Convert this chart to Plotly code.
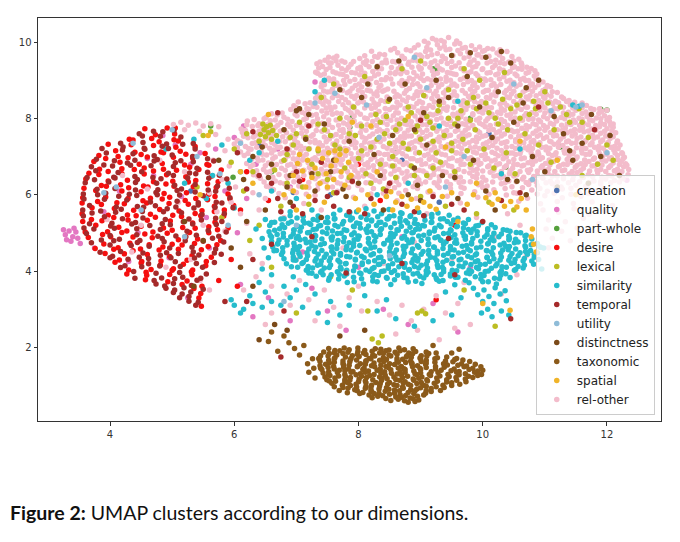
import plotly.graph_objects as go

# UMAP coordinates, one list per relation dimension
creation = [(6.95,6.06),(7.55,6.0),(8.7,6.9),(10.1,7.6),(6.4,7.3),(9.3,5.8),(5.3,6.1)]

quality = [(3.28,4.95),(3.34,5.05),(3.4,4.9),(3.3,4.82),(3.45,5.02),(3.37,4.78),(3.25,5.08),(3.48,4.86),(3.52,4.72),(3.42,5.12),
    (3.9,5.55),(4.15,6.1),(4.45,5.0),(4.7,6.5),(4.95,4.35),(5.15,5.95),(4.3,4.25),(3.75,4.6),(4.6,6.95),(5.3,6.8),(5.05,7.3),(4.85,7.55),(5.6,4.6),(5.25,3.3),
    (5.45,7.1),(5.7,7.2),(5.85,6.1),(5.55,5.4),(6.05,5.0),(6.2,5.9),(6.35,6.8),(6.7,7.2),(6.9,6.2),(6.15,7.8),(6.0,7.5),(7.3,8.95),(9.4,8.25),(12.25,6.45),(12.32,6.38),
    (6.1,3.65),(6.3,2.8),(6.55,3.3),(6.9,2.7),(7.25,3.55),(7.5,2.95),(7.8,2.45),(8.0,4.1),(8.4,3.0),(8.8,2.6),(9.2,3.15),(9.6,2.4),(7.1,4.5),(8.7,4.9),(9.8,4.1)]

part_whole = [(5.62,7.8),(5.98,6.46),(7.9,8.03),(9.2,9.3),(9.26,9.28),(7.86,7.77),(12.0,8.22),(10.37,6.72),(11.25,7.25),(8.6,7.1),(9.8,8.0),(6.6,6.6),(11.9,8.24)]

desire = [(4.56,7.73),(4.92,7.75),(4.73,7.57),(5.04,7.59),(4.31,7.45),(4.67,7.47),(5.03,7.44),(4.37,7.43),(4.79,7.39),(5.10,7.41),
    (3.97,7.32),(4.34,7.31),(4.70,7.29),(5.06,7.24),(5.37,7.26),(4.09,7.15),(4.40,7.11),(4.82,7.12),(5.13,7.14),
    (3.82,7.03),(4.13,7.00),(4.50,7.05),(4.86,7.10),(5.22,7.06),(5.53,7.08),(3.93,6.95),(4.29,6.97),(4.60,6.99),(5.02,6.98),(5.33,6.96),
    (3.74,6.87),(4.16,6.85),(4.47,6.80),(4.84,6.82),(5.20,6.78),(5.56,6.79),(3.83,6.67),(4.19,6.68),(4.55,6.70),(4.86,6.67),(5.28,6.72),(5.59,6.77),
    (3.66,6.56),(3.97,6.61),(4.39,6.66),(4.70,6.62),(5.07,6.64),(5.43,6.66),(5.79,6.65),(3.82,6.53),(4.19,6.55),(4.55,6.54),(4.91,6.52),(5.22,6.47),(5.64,6.49),
    (3.61,6.41),(3.97,6.36),(4.28,6.38),(4.70,6.34),(5.01,6.35),(5.38,6.37),(5.74,6.34),(3.86,6.24),(4.17,6.26),(4.54,6.23),(4.90,6.28),(5.26,6.33),(5.57,6.29),
    (3.58,6.17),(3.94,6.22),(4.30,6.18),(4.61,6.20),(5.03,6.22),(5.34,6.21),(5.71,6.19),(3.77,6.11),(4.19,6.10),(4.50,6.08),(4.87,6.03),(5.23,6.05),(5.59,6.01),(5.90,6.02),
    (3.56,5.92),(3.93,5.94),(4.29,5.90),(4.65,5.91),(4.96,5.93),(5.38,5.90),(5.69,5.95),(3.80,5.82),(4.11,5.79),(4.53,5.84),(4.84,5.89),(5.21,5.85),(5.57,5.87),(5.93,5.89),
    (3.55,5.78),(3.86,5.74),(4.23,5.76),(4.59,5.78),(4.95,5.77),(5.26,5.75),(5.68,5.70),(5.99,5.72),(3.71,5.66),(4.07,5.64),(4.38,5.59),(4.80,5.61),(5.11,5.57),(5.48,5.58),(5.84,5.60),
    (3.55,5.50),(3.97,5.46),(4.28,5.47),(4.65,5.49),(5.01,5.46),(5.37,5.51),(5.68,5.56),(3.70,5.35),(4.06,5.40),(4.42,5.45),(4.73,5.41),(5.15,5.43),(5.46,5.45),(5.83,5.44),
    (3.56,5.30),(3.87,5.32),(4.29,5.34),(4.60,5.33),(4.97,5.31),(5.33,5.26),(5.69,5.28),(3.77,5.20),(4.14,5.15),(4.50,5.17),(4.86,5.13),(5.17,5.14),(5.59,5.16),(5.90,5.13),
    (3.60,5.02),(3.96,5.03),(4.27,5.05),(4.69,5.02),(5.00,5.07),(5.37,5.12),(5.73,5.08),(3.88,4.96),(4.19,5.01),(4.56,4.97),(4.92,4.99),(5.28,5.01),(5.59,5.00),
    (3.65,4.88),(4.01,4.90),(4.37,4.89),(4.68,4.87),(5.10,4.82),(5.41,4.84),(5.78,4.80),(3.90,4.71),(4.32,4.73),(4.63,4.69),(5.00,4.70),(5.36,4.72),(5.72,4.69),
    (3.76,4.59),(4.13,4.61),(4.49,4.58),(4.85,4.63),(5.16,4.68),(5.58,4.64),(4.06,4.57),(4.37,4.53),(4.79,4.55),(5.10,4.57),(5.47,4.56),
    (3.92,4.46),(4.23,4.45),(4.60,4.43),(4.96,4.38),(5.32,4.40),(5.63,4.36),(4.15,4.29),(4.51,4.25),(4.82,4.26),(5.24,4.28),(5.55,4.25),
    (4.08,4.23),(4.50,4.21),(4.81,4.16),(5.18,4.18),(5.54,4.14),(4.30,4.03),(4.66,4.04),(5.02,4.06),(5.33,4.03),
    (4.27,3.92),(4.58,3.97),(5.00,4.02),(5.31,3.98),(4.59,3.89),(4.96,3.91),(5.32,3.90),(4.57,3.77),(4.93,3.72),(5.24,3.74),
    (5.16,3.65),(5.48,3.60),(5.35,3.54),(5.46,3.41),(5.43,3.29),(5.47,3.08),
    (5.95,4.3),(6.05,3.6),(5.75,3.75),(6.1,5.6),(6.2,6.6),(6.55,5.85),(7.1,6.4),(8.0,6.8),(8.35,5.85),(9.55,5.2),(9.25,3.25),(5.05,7.75)]

lexical = [(6.46,7.85),(6.52,7.78),(6.58,7.82),(6.48,7.7),(6.55,7.62),(6.62,7.68),(6.5,7.52),(6.6,7.45),(6.42,7.58),(6.68,7.55),(6.4,7.4),
    (6.0,7.2),(6.2,7.6),(5.95,6.85),(6.3,6.6),(6.8,6.9),(6.95,7.3),(7.05,7.9),(7.15,7.5),(7.25,6.8),(7.35,7.15),(7.45,7.7),(7.5,6.4),
    (7.62,7.3),(7.7,8.0),(7.78,6.7),(7.85,7.6),(7.92,8.3),(8.0,6.95),(8.05,7.8),(8.12,6.55),(8.2,7.25),(8.28,8.1),(8.35,6.8),(8.42,7.6),
    (8.48,8.45),(8.55,7.0),(8.6,6.45),(8.66,7.85),(8.72,7.35),(8.8,8.3),(8.85,6.75),(8.92,7.65),(8.98,7.1),(9.05,8.6),(9.1,6.5),(9.15,7.9),
    (9.2,7.4),(9.28,8.2),(9.32,6.85),(9.38,7.55),(9.45,8.75),(9.5,7.15),(9.55,6.6),(9.6,8.0),(9.68,7.45),(9.75,8.4),(9.8,6.8),(9.88,7.7),
    (9.95,9.0),(10.02,7.2),(10.1,8.15),(10.18,6.7),(10.25,7.85),(10.32,8.5),(10.38,7.1),(10.45,8.25),(10.52,6.55),(10.6,8.6),(10.68,7.6),
    (10.75,8.1),(10.82,8.45),(10.9,7.3),(11.0,8.7),(11.1,6.85),(11.25,8.3),(11.4,7.9),(11.55,8.25),(11.7,7.5),(11.85,6.8),(12.0,7.3),
    (12.1,6.9),(11.6,6.5),(7.4,8.55),(7.6,8.9),(8.1,9.1),(8.7,9.3),(9.0,9.5),(9.7,9.3),(10.35,9.2),(7.1,6.2),(7.6,6.05),(8.4,6.15),
    (9.0,5.95),(9.4,5.7),(10.1,5.8),(6.75,5.7),(6.4,5.2),(6.25,4.8),(8.22,2.22),(8.32,2.12),(8.38,2.3),(8.95,2.9),(9.02,2.95),(9.08,2.88),
    (7.0,2.9),(7.55,3.85),(9.7,3.5),(10.2,2.55),(5.5,7.55),(5.62,7.65),(5.4,6.2),(5.8,5.4),(6.6,4.1),(7.9,3.5),(8.15,2.95),(6.15,6.1),
    (6.85,6.3),(7.2,5.75),(9.9,5.5),(10.5,5.6),
    (8.35,7.9),(8.45,8.05),(8.6,7.7),(8.75,7.95),(8.85,8.15),(8.95,7.8),(9.1,8.05),(9.2,7.75),(9.3,8.35),(9.45,8.0),(9.55,7.85),(9.65,8.2),
    (9.8,7.95),(9.9,8.25),(8.5,7.35),(8.8,7.2),(9.0,7.45),(9.25,7.1),(9.5,7.35),(9.75,7.15),(8.3,7.45),(8.05,7.15),(7.95,7.55),(7.7,7.2),
    (7.55,7.55),(7.35,7.85),(7.2,7.2),(7.0,7.6),(6.85,7.05),(9.85,8.55),(10.05,8.4),(10.2,8.0),(10.4,7.7),(10.6,8.0),(10.55,8.35),(10.85,8.25),
    (11.05,8.4),(11.15,7.7),(11.35,8.1),(11.6,7.9),(8.55,6.75),(8.9,6.5),(9.2,6.7),(7.85,6.45),(8.2,6.3),(7.35,6.55),(6.65,6.65),(6.9,7.5)]

similarity = [(7.70,5.60),(7.86,5.54),(8.12,5.63),(8.25,5.57),(8.49,5.61),(8.68,5.53),
    (7.60,5.49),(7.85,5.46),(7.97,5.55),(8.15,5.47),(8.37,5.50),(8.50,5.43),(8.70,5.51),(8.84,5.45),(8.97,5.54),(9.18,5.48),(9.28,5.52),
    (6.75,5.36),(6.90,5.45),(7.01,5.39),(7.11,5.43),(7.27,5.35),(7.35,5.44),(7.50,5.40),(7.62,5.37),(7.81,5.46),(7.90,5.38),(8.04,5.41),(8.21,5.34),
    (8.31,5.42),(8.46,5.36),(8.57,5.45),(8.67,5.39),(8.83,5.43),(8.91,5.35),(9.06,5.44),(9.18,5.40),(9.37,5.37),(9.46,5.46),(9.60,5.38),
    (6.65,5.28),(6.80,5.37),(6.92,5.29),(7.11,5.32),(7.20,5.25),(7.34,5.33),(7.51,5.27),(7.61,5.36),(7.76,5.30),(7.87,5.34),(7.97,5.26),(8.13,5.35),(8.21,5.31),
    (8.36,5.28),(8.48,5.37),(8.67,5.29),(8.76,5.32),(8.90,5.25),(9.07,5.33),(9.17,5.27),(9.32,5.36),(9.43,5.30),(9.53,5.34),(9.69,5.26),(9.77,5.35),
    (6.60,5.27),(6.77,5.21),(6.87,5.25),(7.02,5.17),(7.13,5.26),(7.23,5.22),(7.39,5.19),(7.47,5.28),(7.62,5.20),(7.74,5.23),(7.93,5.16),(8.02,5.24),(8.16,5.18),(8.33,5.27),
    (8.43,5.21),(8.58,5.25),(8.69,5.17),(8.79,5.26),(8.95,5.22),(9.03,5.19),(9.18,5.28),(9.30,5.20),(9.49,5.23),(9.58,5.16),(9.72,5.24),(9.89,5.18),(9.99,5.27),(10.14,5.21),
    (6.57,5.19),(6.73,5.11),(6.81,5.14),(6.96,5.07),(7.08,5.15),(7.27,5.09),(7.36,5.18),(7.50,5.12),(7.67,5.16),(7.77,5.08),(7.92,5.17),(8.03,5.13),(8.13,5.10),(8.29,5.19),(8.37,5.11),
    (8.52,5.14),(8.64,5.07),(8.83,5.15),(8.92,5.09),(9.06,5.18),(9.23,5.12),(9.33,5.16),(9.48,5.08),(9.59,5.17),(9.69,5.13),(9.85,5.10),(9.93,5.19),(10.08,5.11),(10.20,5.14),(10.39,5.07),
    (6.56,5.03),(6.65,5.07),(6.79,4.99),(6.96,5.08),(7.06,5.04),(7.21,5.01),(7.32,5.10),(7.42,5.02),(7.58,5.05),(7.66,4.98),(7.81,5.06),(7.93,5.00),(8.12,5.09),(8.21,5.03),(8.35,5.07),(8.52,4.99),
    (8.62,5.08),(8.77,5.04),(8.88,5.01),(8.98,5.10),(9.14,5.02),(9.22,5.05),(9.37,4.98),(9.49,5.06),(9.68,5.00),(9.77,5.09),(9.91,5.03),(10.08,5.07),(10.18,4.99),(10.33,5.08),(10.44,5.04),(10.54,5.01),
    (6.58,4.93),(6.69,4.96),(6.79,4.89),(6.95,4.97),(7.03,4.91),(7.18,5.00),(7.30,4.94),(7.49,4.98),(7.58,4.90),(7.72,4.99),(7.89,4.95),(7.99,4.92),(8.14,5.01),(8.25,4.93),(8.35,4.96),(8.51,4.89),(8.59,4.97),
    (8.74,4.91),(8.86,5.00),(9.05,4.94),(9.14,4.98),(9.28,4.90),(9.45,4.99),(9.55,4.95),(9.70,4.92),(9.81,5.01),(9.91,4.93),(10.07,4.96),(10.15,4.89),(10.30,4.97),(10.42,4.91),(10.61,5.00),(10.70,4.94),
    (6.60,4.89),(6.72,4.81),(6.91,4.90),(7.00,4.86),(7.14,4.83),(7.31,4.92),(7.41,4.84),(7.56,4.87),(7.67,4.80),(7.77,4.88),(7.93,4.82),(8.01,4.91),(8.16,4.85),(8.28,4.89),(8.47,4.81),(8.56,4.90),(8.70,4.86),
    (8.87,4.83),(8.97,4.92),(9.12,4.84),(9.23,4.87),(9.33,4.80),(9.49,4.88),(9.57,4.82),(9.72,4.91),(9.84,4.85),(10.03,4.89),(10.12,4.81),(10.26,4.90),(10.43,4.86),(10.53,4.83),(10.68,4.92),(10.79,4.84),
    (6.60,4.78),(6.70,4.71),(6.85,4.79),(6.96,4.73),(7.06,4.82),(7.22,4.76),(7.30,4.80),(7.45,4.72),(7.57,4.81),(7.76,4.77),(7.85,4.74),(7.99,4.83),(8.16,4.75),(8.26,4.78),(8.41,4.71),(8.52,4.79),(8.62,4.73),
    (8.78,4.82),(8.86,4.76),(9.01,4.80),(9.13,4.72),(9.32,4.81),(9.41,4.77),(9.55,4.74),(9.72,4.83),(9.82,4.75),(9.97,4.78),(10.08,4.71),(10.18,4.79),(10.34,4.73),(10.42,4.82),(10.57,4.76),(10.69,4.80),(10.88,4.72),
    (6.62,4.63),(6.70,4.72),(6.85,4.68),(6.97,4.65),(7.16,4.74),(7.25,4.66),(7.39,4.69),(7.56,4.62),(7.66,4.70),(7.81,4.64),(7.92,4.73),(8.02,4.67),(8.18,4.71),(8.26,4.63),(8.41,4.72),(8.53,4.68),(8.72,4.65),
    (8.81,4.74),(8.95,4.66),(9.12,4.69),(9.22,4.62),(9.37,4.70),(9.48,4.64),(9.58,4.73),(9.74,4.67),(9.82,4.71),(9.97,4.63),(10.09,4.72),(10.28,4.68),(10.37,4.65),(10.51,4.74),(10.68,4.66),(10.78,4.69),(10.93,4.62),
    (6.64,4.53),(6.78,4.61),(6.95,4.55),(7.05,4.64),(7.20,4.58),(7.31,4.62),(7.41,4.54),(7.57,4.63),(7.65,4.59),(7.80,4.56),(7.92,4.65),(8.11,4.57),(8.20,4.60),(8.34,4.53),(8.51,4.61),(8.61,4.55),(8.76,4.64),
    (8.87,4.58),(8.97,4.62),(9.13,4.54),(9.21,4.63),(9.36,4.59),(9.48,4.56),(9.67,4.65),(9.76,4.57),(9.90,4.60),(10.07,4.53),(10.17,4.61),(10.32,4.55),(10.43,4.64),(10.53,4.58),(10.69,4.62),(10.77,4.54),(10.92,4.63),
    (6.68,4.54),(6.78,4.50),(6.94,4.47),(7.02,4.56),(7.17,4.48),(7.29,4.51),(7.48,4.44),(7.57,4.52),(7.71,4.46),(7.88,4.55),(7.98,4.49),(8.13,4.53),(8.24,4.45),(8.34,4.54),(8.50,4.50),(8.58,4.47),(8.73,4.56),
    (8.85,4.48),(9.04,4.51),(9.13,4.44),(9.27,4.52),(9.44,4.46),(9.54,4.55),(9.69,4.49),(9.80,4.53),(9.90,4.45),(10.06,4.54),(10.14,4.50),(10.29,4.47),(10.41,4.56),(10.60,4.48),(10.69,4.51),(10.83,4.44),
    (6.76,4.43),(6.95,4.37),(7.04,4.46),(7.18,4.40),(7.35,4.44),(7.45,4.36),(7.60,4.45),(7.71,4.41),(7.81,4.38),(7.97,4.47),(8.05,4.39),(8.20,4.42),(8.32,4.35),(8.51,4.43),(8.60,4.37),(8.74,4.46),
    (8.91,4.40),(9.01,4.44),(9.16,4.36),(9.27,4.45),(9.37,4.41),(9.53,4.38),(9.61,4.47),(9.76,4.39),(9.88,4.42),(10.07,4.35),(10.16,4.43),(10.30,4.37),(10.47,4.46),(10.57,4.40),(10.72,4.44),(10.83,4.36),
    (6.80,4.32),(6.95,4.29),(7.06,4.38),(7.16,4.30),(7.32,4.33),(7.40,4.26),(7.55,4.34),(7.67,4.28),(7.86,4.37),(7.95,4.31),(8.09,4.35),(8.26,4.27),(8.36,4.36),(8.51,4.32),(8.62,4.29),(8.72,4.38),
    (8.88,4.30),(8.96,4.33),(9.11,4.26),(9.23,4.34),(9.42,4.28),(9.51,4.37),(9.65,4.31),(9.82,4.35),(9.92,4.27),(10.07,4.36),(10.18,4.32),(10.28,4.29),(10.44,4.38),(10.52,4.30),(10.67,4.33),(10.79,4.26),
    (6.84,4.19),(6.99,4.28),(7.11,4.22),(7.30,4.26),(7.39,4.18),(7.53,4.27),(7.70,4.23),(7.80,4.20),(7.95,4.29),(8.06,4.21),(8.16,4.24),(8.32,4.17),(8.40,4.25),(8.55,4.19),(8.67,4.28),(8.86,4.22),
    (8.95,4.26),(9.09,4.18),(9.26,4.27),(9.36,4.23),(9.51,4.20),(9.62,4.29),(9.72,4.21),(9.88,4.24),(9.96,4.17),(10.11,4.25),(10.23,4.19),(10.42,4.28),(10.51,4.22),(10.65,4.26),(10.82,4.18),
    (6.92,4.11),(7.09,4.20),(7.19,4.12),(7.34,4.15),(7.45,4.08),(7.55,4.16),(7.71,4.10),(7.79,4.19),(7.94,4.13),(8.06,4.17),(8.25,4.09),(8.34,4.18),(8.48,4.14),(8.65,4.11),(8.75,4.20),
    (8.90,4.12),(9.01,4.15),(9.11,4.08),(9.27,4.16),(9.35,4.10),(9.50,4.19),(9.62,4.13),(9.81,4.17),(9.90,4.09),(10.04,4.18),(10.21,4.14),(10.31,4.11),(10.46,4.20),(10.57,4.12),(10.67,4.15),
    (7.02,4.10),(7.18,4.04),(7.26,4.08),(7.41,4.00),(7.53,4.09),(7.72,4.05),(7.81,4.02),(7.95,4.11),(8.12,4.03),(8.22,4.06),(8.37,3.99),(8.48,4.07),(8.58,4.01),(8.74,4.10),(8.82,4.04),
    (8.97,4.08),(9.09,4.00),(9.28,4.09),(9.37,4.05),(9.51,4.02),(9.68,4.11),(9.78,4.03),(9.93,4.06),(10.04,3.99),(10.14,4.07),(10.30,4.01),(10.38,4.10),(10.53,4.04),(10.65,4.08),
    (7.16,4.02),(7.25,3.94),(7.39,3.97),(7.56,3.90),(7.66,3.98),(7.81,3.92),(7.92,4.01),(8.02,3.95),(8.18,3.99),(8.26,3.91),(8.41,4.00),(8.53,3.96),(8.72,3.93),(8.81,4.02),
    (8.95,3.94),(9.12,3.97),(9.22,3.90),(9.37,3.98),(9.48,3.92),(9.58,4.01),(9.74,3.95),(9.82,3.99),(9.97,3.91),(10.09,4.00),(10.28,3.96),(10.37,3.93),(10.51,4.02),
    (7.32,3.86),(7.43,3.90),(7.53,3.82),(7.69,3.91),(7.77,3.87),(7.92,3.84),(8.04,3.93),(8.23,3.85),(8.32,3.88),(8.46,3.81),(8.63,3.89),(8.73,3.83),(8.88,3.92),
    (8.99,3.86),(9.09,3.90),(9.25,3.82),(9.33,3.91),(9.48,3.87),(9.60,3.84),(9.79,3.93),(9.88,3.85),(10.02,3.88),(10.19,3.81),(10.29,3.89),(10.44,3.83),
    (7.52,3.76),(7.68,3.79),(7.93,3.72),(8.05,3.80),(8.23,3.74),(8.45,3.83),(8.58,3.77),(8.78,3.81),(8.92,3.73),(9.05,3.82),(9.26,3.78),(9.36,3.75),(9.56,3.84),(9.72,3.76),(9.97,3.79),(10.09,3.72),(10.27,3.80),
    (7.82,3.70),(8.08,3.66),(8.30,3.72),(8.52,3.65),(8.80,3.71),(9.02,3.67),(9.30,3.73),(9.55,3.64),(9.78,3.69),(10.0,3.72),(10.22,3.66),
    (9.85,3.55),(10.02,3.5),(10.2,3.56),(10.36,3.48),(9.92,3.38),(10.1,3.33),(10.28,3.4),(10.0,3.2),(10.18,3.15),(10.38,3.22),(10.08,3.0),(10.3,2.95),(10.15,2.8),(10.42,2.85),(9.98,2.9),
    (6.0,3.1),(6.15,3.0),(6.3,3.15),(6.45,3.05),(6.6,3.2),(6.75,3.1),(6.9,3.3),(6.25,3.35),(6.5,3.45),(6.8,3.6),(7.0,3.5),(7.15,3.65),(7.3,3.4),(7.1,3.05),(7.35,2.9),(7.55,3.2),(7.7,2.85),(7.85,3.1),(8.1,3.35),(8.3,2.95),(8.45,3.25),
    (7.5,2.65),(6.4,3.7),(6.6,3.9),(6.95,3.85),(7.2,3.95),(6.45,4.05),(6.55,4.35),(6.48,4.6),(6.45,4.85),(6.35,5.1),(6.5,5.35),(6.9,5.55),(7.25,5.6),(6.1,2.9),(5.95,3.25),(8.6,2.75),(8.9,2.55),(9.2,2.7),(9.5,2.85),(9.65,3.3),(9.4,3.45),
    (10.9,4.3),(10.95,4.05),(10.88,4.48),(10.98,4.6),
    (5.35,7.45),(5.65,6.5),(5.9,6.3),(6.1,6.6),(6.4,7.1),(6.25,6.9),(6.7,7.4),(7.3,8.7),(7.45,9.0),(9.6,8.45),(11.45,8.35),(11.55,8.32),(10.6,7.2),(4.9,7.2),(5.2,6.3),(5.55,5.9),(6.0,5.65),(6.6,6.1),(7.0,5.9),(8.3,6.0),(8.8,6.3),(10.3,6.55),(9.3,7.8),(5.8,7.3)]

temporal = [(4.70,7.66),(5.03,7.68),(4.47,7.60),(4.85,7.65),(4.52,7.54),(4.81,7.53),(5.14,7.51),(4.17,7.35),(4.53,7.37),(4.91,7.33),(5.34,7.34),
    (4.21,7.25),(4.55,7.22),(4.84,7.27),(5.17,7.32),(3.87,7.21),(4.20,7.17),(4.56,7.19),(4.94,7.21),(5.37,7.20),
    (3.94,7.09),(4.37,7.07),(4.71,7.02),(5.00,7.04),(5.33,7.00),(3.78,6.93),(4.07,6.89),(4.40,6.90),(4.76,6.92),(5.14,6.89),(5.57,6.94),
    (3.90,6.78),(4.28,6.83),(4.71,6.88),(5.05,6.84),(5.34,6.86),(5.67,6.88),(3.70,6.73),(4.04,6.75),(4.33,6.77),(4.66,6.76),(5.02,6.74),(5.40,6.69),
    (3.77,6.63),(4.13,6.58),(4.51,6.60),(4.94,6.56),(5.28,6.57),(5.57,6.59),(3.63,6.45),(4.06,6.46),(4.40,6.48),(4.69,6.45),(5.02,6.50),(5.38,6.55),(5.76,6.51),
    (3.75,6.39),(4.08,6.44),(4.44,6.40),(4.82,6.42),(5.25,6.44),(5.59,6.43),(5.88,6.41),(3.60,6.31),(3.98,6.33),(4.41,6.32),(4.75,6.30),(5.04,6.25),(5.37,6.27),(5.73,6.23),
    (3.79,6.14),(4.08,6.16),(4.41,6.12),(4.77,6.13),(5.15,6.15),(5.58,6.12),(5.92,6.17),(3.57,6.02),(3.93,6.04),(4.31,6.01),(4.74,6.06),(5.08,6.11),(5.37,6.07),(5.70,6.09),
    (3.80,6.00),(4.14,5.96),(4.43,5.98),(4.76,6.00),(5.12,5.99),(5.50,5.97),(5.93,5.92),(3.58,5.89),(3.91,5.88),(4.27,5.86),(4.65,5.81),(5.08,5.83),(5.42,5.79),(5.71,5.80),
    (3.67,5.72),(4.10,5.68),(4.44,5.69),(4.73,5.71),(5.06,5.68),(5.42,5.73),(5.80,5.78),(3.56,5.60),(3.85,5.57),(4.18,5.62),(4.54,5.67),(4.92,5.63),(5.35,5.65),(5.69,5.67),(5.98,5.66),
    (3.71,5.52),(4.09,5.54),(4.52,5.56),(4.86,5.55),(5.15,5.53),(5.48,5.48),(5.84,5.50),(3.57,5.44),(3.91,5.42),(4.20,5.37),(4.53,5.39),(4.89,5.35),(5.27,5.36),(5.70,5.38),
    (3.67,5.24),(4.03,5.25),(4.41,5.27),(4.84,5.24),(5.18,5.29),(5.47,5.34),(5.80,5.30),(3.58,5.13),(4.01,5.18),(4.35,5.23),(4.64,5.19),(4.97,5.21),(5.33,5.23),(5.71,5.22),
    (3.74,5.10),(4.07,5.12),(4.43,5.11),(4.81,5.09),(5.24,5.04),(5.58,5.06),(5.87,5.02),(3.62,4.98),(4.00,4.93),(4.43,4.95),(4.77,4.91),(5.06,4.92),(5.39,4.94),(5.75,4.91),
    (3.86,4.81),(4.15,4.83),(4.48,4.80),(4.84,4.85),(5.22,4.90),(5.65,4.86),(3.70,4.74),(4.06,4.79),(4.44,4.75),(4.87,4.77),(5.21,4.79),(5.50,4.78),(5.83,4.76),
    (4.00,4.68),(4.34,4.67),(4.63,4.65),(4.96,4.60),(5.32,4.62),(5.70,4.58),(3.84,4.49),(4.17,4.51),(4.53,4.47),(4.91,4.48),(5.34,4.50),(5.68,4.47),
    (4.04,4.39),(4.47,4.36),(4.81,4.41),(5.10,4.46),(5.43,4.42),(5.79,4.44),(4.00,4.35),(4.29,4.31),(4.62,4.33),(4.98,4.35),(5.36,4.34),
    (4.24,4.14),(4.62,4.19),(5.05,4.24),(5.39,4.20),(5.68,4.22),(4.17,4.09),(4.51,4.11),(4.80,4.13),(5.13,4.12),(5.49,4.10),
    (4.38,3.99),(4.74,3.94),(5.12,3.96),(5.55,3.92),(4.40,3.81),(4.83,3.82),(5.17,3.84),(5.46,3.81),(4.71,3.75),(5.04,3.80),(5.40,3.76),
    (4.74,3.66),(4.88,3.61),(5.02,3.67),(5.31,3.62),(4.90,3.55),(5.04,3.50),(5.19,3.56),(5.50,3.52),(5.02,3.44),(5.16,3.40),(5.30,3.45),(5.12,3.30),(5.27,3.33),(5.27,3.21),(5.42,3.18),(5.38,3.10),
    (6.05,7.1),(6.2,6.15),(6.4,6.5),(6.3,7.65),(6.7,8.15),(6.85,7.2),(7.0,6.6),(7.2,7.8),(7.1,5.5),(7.4,6.85),(7.6,5.7),(7.9,6.35),(8.1,5.5),(8.5,6.3),(8.9,5.55),(9.5,5.75),
    (10.0,5.3),(9.55,3.9),(10.45,2.75),(9.45,4.85),(8.7,4.2),(7.25,4.9),(6.6,4.7),(6.3,4.3),(6.2,3.2),(6.8,2.95),(7.8,3.95),(6.75,1.75),(5.85,3.2),(11.8,7.7),(10.9,8.3),(9.0,7.95),
    (6.7,5.9),(6.95,5.7),(7.3,5.85),(7.65,6.05),(7.85,5.55),(8.2,5.9),(8.7,5.75),(9.2,5.95),(9.7,5.6),(10.3,5.85),(10.6,6.05),(6.6,6.3),(7.05,6.35),(6.75,5.55),(8.45,6.1),(9.05,5.45),(7.5,5.95)]

utility = [(4.37,7.35),(4.1,6.2),(5.0,7.7),(5.4,7.0),(5.77,6.55),(4.5,5.6),(3.9,6.05),(5.2,4.9),(5.9,5.2),(6.1,7.35),(6.4,6.0),(7.3,8.4),(7.62,8.66),(8.13,8.35),
    (8.33,7.5),(9.1,8.8),(9.7,7.0),(10.5,8.9),(11.1,8.2),(11.5,8.3),(11.6,8.35),(12.0,7.1),(7.0,5.2),(8.5,4.4),(6.8,3.2),(9.4,6.2),(10.8,6.4),(8.9,9.6)]

distinctness = [(6.3,7.0),(6.6,6.8),(6.9,6.5),(7.0,8.2),(7.05,8.25),(7.2,8.1),(6.45,7.25),(6.15,6.4),(6.8,7.7),(7.3,6.1),(7.6,6.9),(7.85,7.4),(8.0,6.3),(8.25,7.05),
    (8.5,8.5),(8.55,7.55),(8.75,8.9),(8.9,6.7),(9.05,8.15),(9.1,7.3),(9.25,9.0),(9.35,6.5),(9.45,8.55),(9.6,7.8),(9.75,9.1),(9.85,6.9),(9.95,8.3),(10.05,9.6),
    (10.15,7.5),(10.3,9.75),(10.25,8.7),(10.4,6.4),(10.5,7.9),(10.65,8.4),(10.8,7.0),(10.9,9.0),(11.0,6.6),(11.15,8.05),(11.3,7.6),(11.45,6.9),(11.6,7.35),(11.75,8.1),
    (11.9,7.0),(12.05,7.55),(12.2,6.5),(11.7,6.3),(11.2,6.2),(10.7,6.0),(10.2,5.6),(9.6,5.9),(9.0,5.85),(8.4,5.6),(7.8,5.95),(7.4,5.4),(6.9,5.8),(6.5,5.6),(6.2,5.3),
    (5.95,4.6),(6.1,4.1),(6.3,3.6),(6.65,2.6),(6.85,2.45),(6.4,2.2),(7.7,2.3),(8.1,2.45),(5.35,3.6),(5.5,4.8),(5.2,5.3),(5.75,6.9),(8.65,9.5),(9.5,9.65),(8.3,9.35),
    (7.7,8.75),(8.05,8.55),(9.8,9.72),(10.45,9.45),(7.55,6.6),(8.8,6.0),
    (6.85,6.2),(7.25,6.55),(7.75,6.15),(8.35,6.5),(8.95,6.25),(9.55,6.45),(10.05,6.1),(10.55,6.35),(6.55,6.45),(7.15,7.45),(8.9,7.7),(9.3,8.45),(8.15,8.9),(10.7,8.8),(11.4,7.15),(7.45,7.85)]

taxonomic = [(7.52,1.97),(7.62,1.92),(7.77,1.98),(7.85,1.94),(7.99,1.98),(8.10,1.92),(8.27,1.96),(8.36,1.95),(8.49,1.93),(8.65,1.98),(8.74,1.94),(8.88,1.96),
    (7.44,1.88),(7.61,1.86),(7.70,1.91),(7.83,1.87),(7.99,1.89),(8.08,1.85),(8.22,1.90),(8.34,1.85),(8.44,1.91),(8.59,1.87),(8.67,1.91),(8.81,1.85),(8.92,1.89),(9.09,1.88),
    (7.39,1.78),(7.53,1.84),(7.65,1.80),(7.75,1.84),(7.90,1.78),(7.98,1.82),(8.12,1.81),(8.23,1.79),(8.40,1.84),(8.49,1.80),(8.62,1.82),(8.78,1.78),(8.87,1.83),(9.01,1.78),(9.13,1.84),
    (7.37,1.72),(7.51,1.77),(7.62,1.73),(7.79,1.75),(7.88,1.71),(8.01,1.76),(8.17,1.71),(8.26,1.77),(8.40,1.73),(8.52,1.77),(8.62,1.71),(8.77,1.75),(8.85,1.74),(8.99,1.72),(9.10,1.77),(9.27,1.73),(9.42,1.75),(9.58,1.71),
    (7.36,1.70),(7.52,1.66),(7.61,1.70),(7.75,1.64),(7.87,1.68),(7.97,1.67),(8.12,1.65),(8.20,1.70),(8.34,1.66),(8.45,1.68),(8.62,1.64),(8.71,1.69),(8.84,1.64),(9.00,1.70),(9.09,1.66),(9.23,1.70),(9.40,1.64),(9.55,1.68),(9.68,1.67),
    (7.38,1.63),(7.53,1.59),(7.61,1.61),(7.75,1.57),(7.86,1.62),(8.03,1.57),(8.12,1.63),(8.25,1.59),(8.41,1.63),(8.50,1.57),(8.64,1.61),(8.76,1.60),(8.86,1.58),(9.01,1.63),(9.09,1.59),(9.23,1.61),(9.37,1.57),(9.52,1.62),(9.66,1.57),(9.79,1.63),
    (7.38,1.52),(7.47,1.56),(7.60,1.50),(7.76,1.54),(7.85,1.53),(7.99,1.51),(8.11,1.56),(8.21,1.52),(8.36,1.54),(8.44,1.50),(8.58,1.55),(8.69,1.50),(8.86,1.56),(8.95,1.52),(9.08,1.56),(9.24,1.50),(9.43,1.54),(9.60,1.53),(9.74,1.51),(9.88,1.56),
    (7.39,1.45),(7.51,1.47),(7.61,1.43),(7.76,1.48),(7.84,1.43),(7.98,1.49),(8.09,1.45),(8.26,1.49),(8.35,1.43),(8.48,1.47),(8.64,1.46),(8.73,1.44),(8.87,1.49),(8.99,1.45),(9.09,1.47),(9.24,1.43),(9.38,1.48),(9.54,1.43),(9.70,1.49),(9.84,1.45),(9.97,1.49),
    (7.41,1.42),(7.52,1.36),(7.69,1.40),(7.78,1.39),(7.91,1.37),(8.07,1.42),(8.16,1.38),(8.30,1.40),(8.42,1.36),(8.52,1.41),(8.67,1.36),(8.75,1.42),(8.89,1.38),(9.00,1.42),(9.17,1.36),(9.33,1.40),(9.49,1.39),(9.62,1.37),(9.78,1.42),(9.92,1.38),(10.0,1.40),
    (7.43,1.33),(7.52,1.29),(7.66,1.34),(7.78,1.29),(7.88,1.35),(8.03,1.31),(8.11,1.35),(8.25,1.29),(8.36,1.33),(8.53,1.32),(8.62,1.30),(8.75,1.35),(8.91,1.31),(9.00,1.33),(9.14,1.29),(9.28,1.34),(9.44,1.29),(9.58,1.35),(9.72,1.31),(9.87,1.35),(9.98,1.29),
    (7.46,1.22),(7.54,1.26),(7.68,1.25),(7.79,1.23),(7.96,1.28),(8.05,1.24),(8.18,1.26),(8.34,1.22),(8.43,1.27),(8.57,1.22),(8.69,1.28),(8.79,1.24),(8.94,1.28),(9.02,1.22),(9.16,1.26),(9.31,1.25),(9.46,1.23),(9.62,1.28),(9.77,1.24),(9.92,1.26),
    (7.49,1.15),(7.62,1.20),(7.78,1.15),(7.87,1.21),(8.01,1.17),(8.13,1.21),(8.23,1.15),(8.38,1.19),(8.46,1.18),(8.60,1.16),(8.71,1.21),(8.88,1.17),(8.97,1.19),(9.10,1.15),(9.26,1.20),(9.42,1.15),(9.57,1.21),(9.72,1.17),(9.84,1.21),
    (7.53,1.12),(7.63,1.11),(7.78,1.09),(7.86,1.14),(8.00,1.10),(8.11,1.12),(8.28,1.08),(8.37,1.13),(8.50,1.08),(8.66,1.14),(8.75,1.10),(8.89,1.14),(9.01,1.08),(9.11,1.12),(9.27,1.11),(9.42,1.09),(9.58,1.14),(9.73,1.10),
    (7.57,1.06),(7.74,1.01),(7.83,1.07),(7.96,1.03),(8.12,1.07),(8.21,1.01),(8.35,1.05),(8.47,1.04),(8.57,1.02),(8.72,1.07),(8.80,1.03),(8.94,1.05),(9.05,1.01),(9.22,1.06),(9.36,1.01),(9.50,1.07),(9.63,1.03),
    (7.61,0.97),(7.75,0.95),(7.87,1.00),(7.97,0.96),(8.12,0.98),(8.20,0.94),(8.34,0.99),(8.45,0.94),(8.62,1.00),(8.71,0.96),(8.84,1.00),(9.00,0.94),(9.09,0.98),(9.25,0.97),(9.38,0.95),(9.50,1.00),
    (7.69,0.87),(7.83,0.93),(7.94,0.89),(8.11,0.93),(8.20,0.87),(8.33,0.91),(8.49,0.90),(8.58,0.88),(8.72,0.93),(8.84,0.89),(8.94,0.91),(9.09,0.87),(9.17,0.92),(9.32,0.87),
    (7.82,0.81),(7.98,0.86),(8.07,0.82),(8.21,0.84),(8.33,0.80),(8.43,0.85),(8.58,0.80),(8.66,0.86),(8.80,0.82),(8.91,0.86),(9.08,0.80),(9.17,0.84),
    (8.02,0.79),(8.17,0.75),(8.25,0.79),(8.39,0.73),(8.50,0.77),(8.67,0.76),(8.76,0.74),(8.89,0.79),(9.05,0.75),
    (8.22,0.68),(8.31,0.72),(8.44,0.66),(8.60,0.70),(8.69,0.69),(8.83,0.67),(8.95,0.72),(8.52,0.61),(8.64,0.64),(8.74,0.60),(8.88,0.65),(8.97,0.62),(8.80,0.56),(8.91,0.58),
    (6.55,2.15),(6.8,2.3),(6.97,1.97),(7.05,1.8),(7.18,1.57),(7.26,1.7),(6.7,1.9),(6.88,2.12),(7.12,2.05),(7.2,1.35),(6.6,2.4),(7.28,1.45),(7.3,1.2),
    (9.25,1.85),(9.5,1.85),(9.62,1.95),(9.2,2.05)]

spatial = [(7.02,6.82),(7.1,6.62),(7.18,6.9),(7.25,6.45),(7.3,6.7),(7.38,6.3),(7.42,6.95),(7.48,6.55),(7.52,7.1),(7.56,6.75),(7.6,6.4),(7.64,6.9),
    (7.7,7.05),(7.72,6.6),(7.78,6.25),(7.84,6.85),(7.88,6.5),(7.5,6.2),(7.15,6.2),(7.35,7.2),(7.62,7.15),(6.95,6.5),(7.05,7.05),(7.8,7.15),
    (8.45,5.95),(8.52,6.08),(8.6,5.8),(8.7,5.95),(8.78,5.7),(8.85,5.88),(8.95,5.65),(9.05,5.8),(9.15,5.7),(9.25,5.62),
    (10.05,5.92),(10.15,5.75),(10.25,5.88),(10.35,5.7),(10.45,5.82),(10.55,5.68),(10.2,6.05),
    (10.78,4.9),(10.82,4.7),(10.86,4.5),(10.8,5.1),
    (6.55,8.1),(6.1,6.6),(5.58,7.55),(5.45,6.0),(6.3,6.3),(8.2,7.8),(8.8,8.05),(9.4,7.25),(9.9,6.3),(10.6,7.4),(11.2,6.9),(11.5,6.0),
    (10.0,3.15),(10.44,2.97),(8.0,5.6),(9.6,5.3),(7.9,7.9),(7.0,5.6),(6.8,6.0),(8.3,6.6),
    (7.95,5.9),(8.15,6.0),(8.25,5.75),(9.35,5.95),(9.5,6.05),(9.75,5.75),(9.85,6.0),(10.62,5.9),(10.7,5.6),(7.2,5.95),(6.95,6.1),(8.55,5.6),(9.15,6.1),(7.45,5.8)]

rel_other = [(9.06,10.02),(9.19,10.09),(9.33,10.04),(9.45,10.12),(9.58,10.03),
    (8.96,9.92),(9.1,9.86),(9.27,9.93),(9.38,9.89),(9.55,9.95),(9.67,9.84),(9.82,9.9),(9.95,9.87),(10.08,9.83),
    (8.21,9.76),(8.34,9.68),(8.52,9.79),(8.63,9.72),(8.84,9.77),(8.99,9.66),(9.08,9.75),(9.27,9.7),(9.41,9.8),(9.64,9.69),(9.76,9.74),(9.93,9.67),(10.03,9.78),(10.23,9.71),(10.39,9.75),
    (7.46,9.52),(7.6,9.58),(7.73,9.5),(8.02,9.57),(8.13,9.51),(8.31,9.6),(8.44,9.53),(8.55,9.49),(8.74,9.57),(8.88,9.52),(9.11,9.62),(9.23,9.5),(9.4,9.56),(9.5,9.49),(9.7,9.58),(9.86,9.53),(9.99,9.6),(10.21,9.52),(10.32,9.57),(10.5,9.5),(10.58,9.55),
    (7.33,9.43),(7.42,9.36),(7.56,9.45),(7.67,9.39),(7.88,9.42),(8.03,9.34),(8.12,9.41),(8.31,9.37),(8.45,9.46),(8.68,9.38),(8.8,9.42),(8.97,9.35),(9.07,9.43),(9.27,9.38),(9.43,9.44),(9.56,9.37),(9.78,9.41),(9.89,9.36),(10.07,9.45),(10.2,9.39),(10.35,9.43),(10.51,9.35),(10.63,9.4),(10.71,9.34),
    (7.31,9.21),(7.48,9.28),(7.59,9.22),(7.8,9.26),(7.95,9.19),(8.04,9.27),(8.23,9.23),(8.37,9.3),(8.6,9.21),(8.72,9.25),(8.89,9.2),(8.99,9.29),(9.19,9.24),(9.35,9.27),(9.48,9.19),(9.7,9.25),(9.81,9.22),(9.99,9.28),(10.12,9.2),(10.33,9.26),(10.44,9.23),(10.63,9.29),(10.74,9.21),(10.84,9.25),
    (7.39,9.13),(7.52,9.05),(7.7,9.16),(7.81,9.09),(8.02,9.14),(8.17,9.03),(8.26,9.12),(8.45,9.07),(8.59,9.17),(8.82,9.06),(8.94,9.11),(9.11,9.04),(9.21,9.13),(9.41,9.08),(9.57,9.15),(9.7,9.06),(9.92,9.12),(10.03,9.03),(10.21,9.14),(10.34,9.09),(10.55,9.12),(10.66,9.05),(10.83,9.11),(10.9,9.02),
    (7.41,8.92),(7.54,8.99),(7.65,8.93),(7.86,8.97),(8.01,8.9),(8.1,8.98),(8.29,8.94),(8.43,9.01),(8.66,8.92),(8.78,8.96),(8.95,8.91),(9.05,8.99),(9.25,8.94),(9.41,8.97),(9.54,8.9),(9.76,8.96),(9.87,8.93),(10.05,8.99),(10.18,8.91),(10.39,8.97),(10.5,8.94),(10.69,8.99),(10.8,8.9),(10.97,8.95),
    (7.4,8.83),(7.58,8.76),(7.69,8.84),(7.9,8.79),(8.05,8.82),(8.14,8.74),(8.33,8.81),(8.47,8.77),(8.7,8.86),(8.82,8.78),(8.99,8.83),(9.09,8.75),(9.29,8.82),(9.45,8.79),(9.58,8.85),(9.8,8.76),(9.91,8.81),(10.09,8.74),(10.22,8.83),(10.43,8.78),(10.54,8.84),(10.73,8.76),(10.84,8.81),(11.01,8.77),(11.09,8.83),
    (7.37,8.62),(7.5,8.69),(7.61,8.63),(7.82,8.67),(7.97,8.6),(8.06,8.68),(8.25,8.64),(8.39,8.71),(8.62,8.62),(8.74,8.66),(8.91,8.61),(9.01,8.69),(9.21,8.64),(9.37,8.67),(9.5,8.6),(9.72,8.66),(9.83,8.63),(10.01,8.69),(10.14,8.61),(10.35,8.67),(10.46,8.64),(10.65,8.69),(10.76,8.6),(10.93,8.65),(11.03,8.62),(11.2,8.68),
    (7.31,8.53),(7.47,8.46),(7.58,8.54),(7.79,8.49),(7.94,8.52),(8.03,8.44),(8.22,8.51),(8.36,8.47),(8.59,8.56),(8.71,8.48),(8.88,8.53),(8.98,8.45),(9.18,8.52),(9.34,8.49),(9.47,8.55),(9.69,8.46),(9.8,8.51),(9.98,8.44),(10.11,8.53),(10.32,8.48),(10.43,8.54),(10.62,8.46),(10.73,8.51),(10.9,8.47),(11.0,8.53),(11.17,8.45),(11.3,8.52),(11.39,8.47),
    (6.96,8.33),(7.14,8.38),(7.27,8.31),(7.43,8.37),(7.54,8.3),(7.75,8.36),(7.9,8.32),(7.99,8.4),(8.18,8.33),(8.32,8.37),(8.55,8.29),(8.67,8.35),(8.84,8.31),(8.94,8.39),(9.14,8.34),(9.3,8.37),(9.43,8.3),(9.65,8.36),(9.76,8.33),(9.94,8.39),(10.07,8.31),(10.28,8.37),(10.39,8.34),(10.58,8.39),(10.69,8.3),(10.86,8.35),(10.96,8.32),(11.13,8.38),(11.26,8.31),(11.41,8.36),(11.55,8.29),(11.67,8.34),
    (6.91,8.23),(7.09,8.16),(7.2,8.24),(7.41,8.19),(7.56,8.22),(7.65,8.14),(7.84,8.21),(7.98,8.17),(8.21,8.26),(8.33,8.18),(8.5,8.23),(8.6,8.15),(8.8,8.22),(8.96,8.19),(9.09,8.25),(9.31,8.16),(9.42,8.21),(9.6,8.14),(9.73,8.23),(9.94,8.18),(10.05,8.24),(10.24,8.16),(10.35,8.21),(10.52,8.17),(10.62,8.23),(10.79,8.15),(10.92,8.22),(11.07,8.19),(11.21,8.25),(11.38,8.16),(11.5,8.21),(11.66,8.17),(11.79,8.23),(11.92,8.18),(12.0,8.21),
    (6.51,8.02),(6.69,8.09),(6.8,8.03),(7.01,8.07),(7.16,8.0),(7.25,8.08),(7.44,8.04),(7.58,8.11),(7.81,8.02),(7.93,8.06),(8.1,8.01),(8.2,8.09),(8.4,8.04),(8.56,8.07),(8.69,8.0),(8.91,8.06),(9.02,8.03),(9.2,8.09),(9.33,8.01),(9.54,8.07),(9.65,8.04),(9.84,8.09),(9.95,8.0),(10.12,8.05),(10.22,8.02),(10.39,8.08),(10.52,8.01),(10.67,8.06),(10.81,7.99),(10.98,8.04),(11.1,8.08),(11.26,8.02),(11.39,8.07),(11.55,8.0),(11.68,8.05),(11.83,8.01),(11.96,8.07),(12.04,8.02),
    (6.21,7.93),(6.4,7.86),(6.58,7.94),(6.75,7.89),(6.93,7.92),(7.05,7.84),(7.27,7.91),(7.41,7.87),(7.64,7.96),(7.76,7.88),(7.93,7.93),(8.03,7.85),(8.23,7.92),(8.39,7.89),(8.52,7.95),(8.74,7.86),(8.85,7.91),(9.03,7.84),(9.16,7.93),(9.37,7.88),(9.48,7.94),(9.67,7.86),(9.78,7.91),(9.95,7.87),(10.05,7.93),(10.22,7.85),(10.35,7.92),(10.5,7.89),(10.64,7.95),(10.81,7.86),(10.93,7.91),(11.09,7.87),(11.19,7.93),(11.36,7.85),(11.49,7.9),(11.63,7.87),(11.77,7.94),(11.9,7.88),(12.04,7.92),(12.1,7.85),
    (6.11,7.72),(6.29,7.79),(6.45,7.73),(6.66,7.77),(6.81,7.7),(6.9,7.78),(7.09,7.74),(7.23,7.81),(7.46,7.72),(7.58,7.76),(7.75,7.71),(7.85,7.79),(8.05,7.74),(8.21,7.77),(8.34,7.7),(8.56,7.76),(8.67,7.73),(8.85,7.79),(8.98,7.71),(9.19,7.77),(9.3,7.74),(9.49,7.79),(9.6,7.7),(9.77,7.75),(9.87,7.72),(10.04,7.78),(10.17,7.71),(10.32,7.76),(10.46,7.69),(10.63,7.74),(10.75,7.78),(10.91,7.72),(11.04,7.77),(11.2,7.7),(11.33,7.75),(11.48,7.71),(11.61,7.77),(11.75,7.72),(11.88,7.78),(12.0,7.73),(12.1,7.77),
    (6.13,7.63),(6.34,7.56),(6.49,7.64),(6.63,7.59),(6.84,7.62),(6.99,7.54),(7.08,7.61),(7.27,7.57),(7.41,7.66),(7.64,7.58),(7.76,7.63),(7.93,7.55),(8.03,7.62),(8.23,7.59),(8.39,7.65),(8.52,7.56),(8.74,7.61),(8.85,7.54),(9.03,7.63),(9.16,7.58),(9.37,7.64),(9.48,7.56),(9.67,7.61),(9.78,7.57),(9.95,7.63),(10.05,7.55),(10.22,7.62),(10.35,7.59),(10.5,7.65),(10.64,7.56),(10.81,7.61),(10.93,7.57),(11.09,7.63),(11.19,7.55),(11.36,7.62),(11.49,7.59),(11.63,7.65),(11.77,7.56),(11.9,7.61),(12.04,7.57),(12.14,7.62),
    (6.05,7.42),(6.22,7.49),(6.4,7.43),(6.52,7.47),(6.73,7.4),(6.88,7.48),(6.97,7.44),(7.16,7.51),(7.3,7.42),(7.53,7.46),(7.65,7.41),(7.82,7.49),(7.92,7.44),(8.12,7.47),(8.28,7.4),(8.41,7.46),(8.63,7.43),(8.74,7.49),(8.92,7.41),(9.05,7.47),(9.26,7.44),(9.37,7.49),(9.56,7.4),(9.67,7.45),(9.84,7.42),(9.94,7.48),(10.11,7.41),(10.24,7.46),(10.39,7.39),(10.53,7.44),(10.7,7.48),(10.82,7.42),(10.98,7.47),(11.08,7.4),(11.25,7.45),(11.38,7.41),(11.52,7.47),(11.66,7.42),(11.79,7.48),(11.93,7.43),(12.05,7.47),(12.17,7.41),
    (6.0,7.33),(6.18,7.26),(6.29,7.34),(6.5,7.29),(6.65,7.32),(6.74,7.24),(6.93,7.31),(7.07,7.27),(7.3,7.36),(7.42,7.28),(7.59,7.33),(7.69,7.25),(7.89,7.32),(8.05,7.29),(8.18,7.35),(8.4,7.26),(8.51,7.31),(8.69,7.24),(8.82,7.33),(9.03,7.28),(9.14,7.34),(9.33,7.26),(9.44,7.31),(9.61,7.27),(9.71,7.33),(9.88,7.25),(10.01,7.32),(10.16,7.29),(10.3,7.35),(10.47,7.26),(10.59,7.31),(10.75,7.27),(10.85,7.33),(11.02,7.25),(11.15,7.32),(11.29,7.29),(11.43,7.35),(11.6,7.26),(11.73,7.31),(11.87,7.27),(12.0,7.33),(12.12,7.26),(12.21,7.3),
    (6.1,7.12),(6.27,7.19),(6.43,7.13),(6.64,7.17),(6.79,7.1),(6.88,7.18),(7.07,7.14),(7.21,7.21),(7.44,7.12),(7.56,7.16),(7.73,7.11),(7.83,7.19),(8.03,7.14),(8.19,7.17),(8.32,7.1),(8.54,7.16),(8.65,7.13),(8.83,7.19),(8.96,7.11),(9.17,7.17),(9.28,7.14),(9.47,7.19),(9.58,7.1),(9.75,7.15),(9.85,7.12),(10.02,7.18),(10.15,7.11),(10.3,7.16),(10.44,7.09),(10.61,7.14),(10.73,7.18),(10.89,7.12),(11.02,7.17),(11.18,7.1),(11.31,7.15),(11.46,7.11),(11.59,7.17),(11.73,7.12),(11.86,7.18),(11.98,7.13),(12.11,7.17),(12.24,7.1),
    (6.16,7.03),(6.37,6.96),(6.52,7.04),(6.66,6.99),(6.87,7.02),(7.02,6.94),(7.11,7.01),(7.3,6.97),(7.44,7.06),(7.67,6.98),(7.79,7.03),(7.96,6.95),(8.06,7.02),(8.26,6.99),(8.42,7.05),(8.55,6.96),(8.77,7.01),(8.88,6.94),(9.06,7.03),(9.19,6.98),(9.4,7.04),(9.51,6.96),(9.7,7.01),(9.81,6.97),(9.98,7.03),(10.08,6.95),(10.25,7.02),(10.38,6.99),(10.53,7.05),(10.67,6.96),(10.84,7.01),(10.96,6.97),(11.12,7.03),(11.22,6.95),(11.39,7.02),(11.52,6.99),(11.66,7.05),(11.8,6.96),(11.93,7.01),(12.07,6.97),(12.17,7.03),(12.28,6.98),
    (6.2,6.82),(6.39,6.89),(6.55,6.83),(6.76,6.87),(6.91,6.8),(7.0,6.88),(7.19,6.84),(7.33,6.91),(7.56,6.82),(7.68,6.86),(7.85,6.81),(7.95,6.89),(8.15,6.84),(8.31,6.87),(8.44,6.8),(8.66,6.86),(8.77,6.83),(8.95,6.89),(9.08,6.81),(9.29,6.87),(9.4,6.84),(9.59,6.89),(9.7,6.8),(9.87,6.85),(9.97,6.82),(10.14,6.88),(10.27,6.81),(10.42,6.86),(10.56,6.79),(10.73,6.84),(10.85,6.88),(11.01,6.82),(11.14,6.87),(11.3,6.8),(11.43,6.85),(11.58,6.81),(11.71,6.87),(11.85,6.82),(11.98,6.88),(12.1,6.83),(12.23,6.87),(12.3,6.81),
    (6.26,6.73),(6.47,6.66),(6.62,6.74),(6.76,6.69),(6.97,6.72),(7.12,6.64),(7.21,6.71),(7.4,6.67),(7.54,6.76),(7.77,6.68),(7.89,6.73),(8.06,6.65),(8.16,6.72),(8.36,6.69),(8.52,6.75),(8.65,6.66),(8.87,6.71),(8.98,6.64),(9.16,6.73),(9.29,6.68),(9.5,6.74),(9.61,6.66),(9.8,6.71),(9.91,6.67),(10.08,6.73),(10.18,6.65),(10.35,6.72),(10.48,6.69),(10.63,6.75),(10.77,6.66),(10.94,6.71),(11.06,6.67),(11.22,6.73),(11.32,6.65),(11.49,6.72),(11.62,6.69),(11.76,6.75),(11.9,6.66),(12.03,6.71),(12.17,6.67),(12.27,6.73),(12.35,6.66),
    (6.31,6.52),(6.52,6.59),(6.72,6.53),(6.95,6.57),(7.12,6.5),(7.23,6.58),(7.44,6.54),(7.6,6.61),(7.85,6.52),(7.99,6.56),(8.18,6.51),(8.3,6.59),(8.52,6.54),(8.7,6.57),(8.85,6.5),(9.09,6.56),(9.21,6.53),(9.41,6.59),(9.56,6.51),(9.79,6.57),(9.91,6.54),(10.12,6.59),(10.24,6.5),(10.43,6.55),(10.55,6.52),(10.74,6.58),(10.88,6.51),(11.05,6.56),(11.2,6.49),(11.39,6.54),(11.52,6.58),(11.7,6.52),(11.85,6.57),(12.03,6.5),(12.17,6.55),(12.34,6.52),
    (6.42,6.43),(6.66,6.36),(6.86,6.44),(7.05,6.39),(7.3,6.42),(7.48,6.34),(7.6,6.41),(7.83,6.37),(8.0,6.46),(8.27,6.38),(8.41,6.43),(8.61,6.35),(8.74,6.42),(8.97,6.39),(9.15,6.45),(9.3,6.36),(9.56,6.41),(9.69,6.34),(9.9,6.43),(10.05,6.38),(10.29,6.44),(10.42,6.36),(10.64,6.41),(10.77,6.37),(10.97,6.43),(11.09,6.35),(11.3,6.42),(11.45,6.39),(11.62,6.45),(11.79,6.36),(11.98,6.41),(12.12,6.37),(12.26,6.42),
    (6.52,6.22),(6.81,6.29),(7.04,6.23),(7.35,6.27),(7.58,6.2),(7.72,6.28),(7.99,6.24),(8.18,6.31),(8.48,6.22),(8.65,6.26),(8.88,6.21),(9.0,6.29),(9.27,6.24),(9.48,6.27),(9.65,6.2),(9.93,6.26),(10.07,6.23),(10.3,6.29),(10.47,6.21),(10.74,6.27),(10.88,6.24),(11.12,6.29),(11.26,6.2),(11.5,6.25),(11.66,6.22),(11.9,6.28),
    (6.63,6.13),(7.0,6.06),(7.34,6.14),(7.66,6.09),(8.05,6.12),(8.4,6.04),(8.76,6.11),(9.12,6.07),(9.48,6.16),(9.87,6.08),(10.18,6.13),(10.5,6.05),(10.79,6.12),(11.04,6.09),(11.28,6.15),(11.55,6.06),(11.8,6.1),
    (6.82,5.92),(7.3,5.98),(7.92,5.93),(8.44,5.97),(8.93,5.9),(9.43,5.96),(9.92,5.93),(10.38,5.99),(10.72,5.91),(11.0,5.97),(11.28,5.92),(11.58,5.96),
    (7.12,5.77),(8.62,5.84),(9.64,5.78),(10.58,5.83),(10.93,5.76),(11.2,5.82),(11.46,5.77),(11.76,5.81),
    (10.97,5.6),(11.22,5.54),(11.47,5.63),(11.71,5.49),(11.96,5.58),(11.06,5.34),(11.33,5.29),(11.62,5.38),(11.87,5.24),(11.02,5.1),(11.27,5.04),(11.52,5.13),(11.12,4.86),(11.41,4.79),(11.06,4.61),(12.09,5.72),(12.21,6.08),
    (5.02,7.84),(5.14,7.9),(5.26,7.82),(5.38,7.88),(5.5,7.8),(5.62,7.86),(5.75,7.78),(5.2,7.7),(5.44,7.66),(5.7,7.58),(5.9,7.45),(5.58,7.3),(5.85,7.15),(5.66,6.9),(5.92,6.75),(5.8,6.4),(6.02,6.2),(5.6,6.05),(5.95,5.8),(5.72,5.55),(6.1,5.5),(5.5,5.2),(5.85,5.05),(6.2,5.25),(6.4,5.6),(6.5,5.9),(6.3,6.05),
    (4.2,6.5),(4.8,6.9),(4.5,5.2),(5.1,5.8),(3.95,5.35),(4.35,4.5),(5.3,4.3),(4.9,4.1),(5.6,3.5),(5.45,3.75),(5.2,6.6),(4.6,6.15),
    (6.25,4.45),(6.45,4.2),(6.35,3.85),(6.6,3.6),(6.85,3.4),(7.05,3.75),(6.9,3.1),(7.2,3.25),(7.45,3.5),(7.6,3.05),(7.85,3.3),(8.05,2.95),(8.3,3.2),(8.5,2.85),(8.7,3.1),(8.85,2.7),(9.05,3.0),(9.25,3.35),(9.4,2.9),(9.6,3.15),(9.8,2.6),(7.3,2.7),(7.7,2.55),(6.6,2.9),(6.15,3.5),(6.5,2.6),
    (7.0,4.3),(7.75,4.6),(8.4,4.2),(8.9,4.75),(9.5,4.3),(10.2,4.9),(10.6,5.2),(6.8,5.4),(7.4,5.6),(8.1,5.7),(9.1,5.5),(9.9,5.4),(10.4,5.5),(8.95,2.45),(8.6,2.35),(9.3,2.2),(9.55,2.5),(10.3,3.4),(10.55,3.9),(10.7,4.4),(8.0,3.6),(9.7,3.7),
    (9.12,9.97),(9.38,10.0),(9.63,9.96),(9.25,10.05),
    (8.58,9.83),(8.77,9.8),(8.9,9.85),(9.16,9.79),(9.31,9.84),(9.47,9.81),(9.6,9.78),(9.72,9.86),(9.88,9.8),(10.0,9.76),(10.16,9.82),(10.28,9.8),
    (8.1,9.64),(8.26,9.62),(8.42,9.67),(8.7,9.63),(8.93,9.66),(9.02,9.61),(9.18,9.67),(9.35,9.63),(9.52,9.65),(9.78,9.62),(9.91,9.66),(10.1,9.63),(10.27,9.66),(10.47,9.62),(7.52,9.6),(7.65,9.63),
    (7.38,9.48),(7.52,9.46),(7.64,9.5),(7.78,9.47),(7.92,9.49),(8.08,9.46),(8.22,9.49),(8.38,9.45),(8.6,9.48),(8.81,9.47),(8.95,9.5),(9.17,9.46),(9.33,9.49),(9.62,9.46),(9.8,9.48),(9.92,9.44),(10.13,9.49),(10.28,9.46),(10.42,9.48),(10.62,9.45),
    (7.36,9.32),(7.54,9.33),(7.73,9.3),(7.84,9.34),(7.99,9.31),(8.17,9.35),(8.3,9.31),(8.53,9.33),(8.64,9.3),(8.86,9.34),(9.01,9.31),(9.15,9.34),(9.31,9.3),(9.5,9.33),(9.65,9.31),(9.84,9.34),(10.0,9.3),(10.16,9.33),(10.27,9.3),(10.48,9.33),(10.57,9.3),(10.78,9.31),
    (7.34,9.18),(7.45,9.16),(7.64,9.19),(7.75,9.15),(7.89,9.2),(8.1,9.18),(8.32,9.16),(8.51,9.19),(8.68,9.17),(8.78,9.2),(9.03,9.16),(9.27,9.18),(9.43,9.2),(9.53,9.16),(9.77,9.19),(9.89,9.17),(10.07,9.19),(10.25,9.17),(10.4,9.19),(10.52,9.16),(10.7,9.18),(10.87,9.16),
    (7.46,9.0),(7.6,9.03),(7.76,8.99),(7.94,9.02),(8.06,9.0),(8.2,9.04),(8.37,9.01),(8.52,9.03),(8.7,8.99),(8.88,9.02),(9.0,9.05),(9.17,9.0),(9.32,9.03),(9.48,9.0),(9.64,9.02),(9.82,8.99),(9.97,9.04),(10.13,9.01),(10.27,9.03),(10.44,9.0),(10.61,9.02),(10.74,8.99),(10.86,9.03),
    (7.45,8.88),(7.63,8.86),(7.78,8.89),(7.95,8.86),(8.18,8.88),(8.36,8.86),(8.55,8.9),(8.72,8.87),(8.87,8.89),(9.17,8.86),(9.34,8.89),(9.5,8.87),(9.69,8.89),(9.84,8.86),(10.0,8.88),(10.14,8.86),(10.29,8.89),(10.46,8.87),(10.6,8.89),(10.76,8.86),(10.9,8.88),(11.04,8.86),
    (7.44,8.72),(7.55,8.7),(7.74,8.73),(7.86,8.71),(8.0,8.74),(8.19,8.72),(8.3,8.7),(8.42,8.74),(8.57,8.71),(8.77,8.73),(8.94,8.7),(9.14,8.73),(9.25,8.71),(9.41,8.74),(9.54,8.7),(9.67,8.73),(9.87,8.71),(10.05,8.73),(10.2,8.7),(10.38,8.73),(10.5,8.71),(10.69,8.74),(10.8,8.71),(10.97,8.73),(11.12,8.7),
    (7.34,8.58),(7.44,8.56),(7.66,8.59),(7.73,8.55),(7.89,8.58),(8.1,8.57),(8.3,8.59),(8.46,8.56),(8.66,8.58),(8.8,8.55),(8.95,8.59),(9.08,8.57),(9.27,8.58),(9.41,8.56),(9.58,8.59),(9.77,8.57),(9.92,8.58),(10.06,8.55),(10.21,8.59),(10.39,8.56),(10.55,8.58),(10.7,8.56),(10.86,8.59),(10.98,8.56),(11.1,8.58),(11.27,8.56),
    (7.03,8.43),(7.22,8.41),(7.38,8.44),(7.52,8.42),(7.68,8.44),(7.84,8.41),(8.08,8.43),(8.25,8.41),(8.43,8.44),(8.62,8.42),(8.77,8.44),(9.03,8.41),(9.22,8.43),(9.37,8.41),(9.55,8.44),(9.72,8.42),(9.87,8.44),(10.01,8.41),(10.18,8.43),(10.35,8.41),(10.5,8.44),(10.66,8.42),(10.8,8.44),(10.95,8.41),(11.08,8.43),(11.22,8.41),(11.35,8.44),(11.48,8.42),(11.6,8.4),
    (7.0,8.28),(7.17,8.26),(7.33,8.29),(7.48,8.27),(7.62,8.3),(7.79,8.26),(7.93,8.28),(8.1,8.27),(8.27,8.29),(8.43,8.26),(8.61,8.28),(8.75,8.26),(8.89,8.29),(9.03,8.27),(9.2,8.29),(9.37,8.26),(9.53,8.28),(9.7,8.27),(9.85,8.29),(10.0,8.26),(10.14,8.28),(10.3,8.26),(10.45,8.29),(10.57,8.27),(10.72,8.29),(10.85,8.26),(11.0,8.28),(11.15,8.26),(11.3,8.29),(11.45,8.27),(11.6,8.28),(11.74,8.26),(11.88,8.25),
    (6.6,8.12),(6.77,8.14),(6.98,8.11),(7.14,8.13),(7.32,8.1),(7.49,8.14),(7.72,8.12),(7.88,8.14),(8.03,8.11),(8.27,8.13),(8.44,8.11),(8.64,8.14),(8.84,8.12),(9.0,8.14),(9.15,8.11),(9.26,8.13),(9.52,8.11),(9.68,8.14),(9.84,8.12),(10.0,8.14),(10.15,8.11),(10.29,8.13),(10.45,8.11),(10.7,8.13),(10.86,8.11),(11.0,8.14),(11.13,8.12),(11.3,8.14),(11.45,8.11),(11.6,8.13),(11.73,8.11),(11.87,8.13),
    (6.32,7.97),(6.48,7.99),(6.66,7.96),(6.86,7.98),(7.12,7.97),(7.34,7.99),(7.52,7.96),(7.7,7.98),(7.86,7.96),(8.14,7.99),(8.3,7.97),(8.46,7.99),(8.62,7.96),(8.8,7.98),(8.96,7.96),(9.1,7.99),(9.26,7.97),(9.44,7.99),(9.6,7.96),(9.73,7.98),(9.9,7.96),(10.08,7.99),(10.3,7.97),(10.45,7.99),(10.6,7.96),(10.74,7.98),(10.9,7.96),(11.04,7.99),(11.18,7.97),(11.32,7.99),(11.46,7.96),(11.6,7.98),(11.72,7.96),(11.9,7.99),(12.0,7.96),
    (6.2,7.83),(6.38,7.81),(6.54,7.84),(6.7,7.82),(6.86,7.84),(7.0,7.81),(7.17,7.83),(7.34,7.81),(7.52,7.84),(7.68,7.82),(7.82,7.84),(7.98,7.81),(8.14,7.83),(8.29,7.81),(8.46,7.84),(8.62,7.82),(8.78,7.84),(8.93,7.81),(9.1,7.83),(9.24,7.81),(9.42,7.84),(9.56,7.82),(9.72,7.84),(9.84,7.81),(10.0,7.83),(10.12,7.81),(10.28,7.84),(10.4,7.82),(10.56,7.84),(10.7,7.81),(10.86,7.83),(10.98,7.81),(11.14,7.84),(11.27,7.82),(11.42,7.84),(11.56,7.81),(11.7,7.83),(11.82,7.81),(11.96,7.84),(12.06,7.82),
    (6.18,7.68),(6.4,7.66),(6.56,7.69),(6.74,7.67),(6.95,7.69),(7.16,7.66),(7.32,7.68),(7.5,7.66),(7.7,7.69),(7.86,7.67),(8.12,7.69),(8.3,7.66),(8.46,7.68),(8.62,7.66),(8.8,7.69),(8.92,7.67),(9.1,7.69),(9.26,7.66),(9.42,7.68),(9.56,7.66),(9.72,7.69),(9.92,7.67),(10.1,7.69),(10.27,7.66),(10.42,7.68),(10.56,7.66),(10.7,7.69),(10.86,7.67),(11.0,7.69),(11.14,7.66),(11.28,7.68),(11.42,7.66),(11.56,7.69),(11.7,7.67),(11.82,7.69),(11.96,7.66),(12.08,7.68),
    (6.15,7.53),(6.31,7.51),(6.58,7.54),(6.78,7.52),(6.92,7.54),(7.12,7.51),(7.24,7.53),(7.45,7.51),(7.58,7.54),(7.72,7.52),(7.88,7.54),(8.06,7.51),(8.18,7.53),(8.34,7.51),(8.5,7.54),(8.68,7.52),(8.8,7.54),(8.98,7.51),(9.1,7.53),(9.3,7.51),(9.43,7.54),(9.62,7.52),(9.73,7.54),(9.9,7.51),(10.0,7.53),(10.17,7.51),(10.3,7.54),(10.45,7.52),(10.58,7.54),(10.75,7.51),(10.88,7.53),(11.03,7.51),(11.14,7.54),(11.3,7.52),(11.44,7.54),(11.58,7.51),(11.72,7.53),(11.85,7.51),(11.98,7.54),(12.1,7.52),
    (6.1,7.38),(6.34,7.36),(6.46,7.39),(6.6,7.37),(6.82,7.39),(7.02,7.36),(7.22,7.38),(7.37,7.36),(7.48,7.39),(7.64,7.37),(7.77,7.39),(7.96,7.36),(8.1,7.38),(8.23,7.36),(8.35,7.39),(8.58,7.37),(8.68,7.39),(8.86,7.36),(8.98,7.38),(9.2,7.36),(9.3,7.39),(9.5,7.37),(9.64,7.39),(9.78,7.36),(9.9,7.38),(10.06,7.36),(10.2,7.39),(10.35,7.37),(10.53,7.39),(10.66,7.36),(10.78,7.38),(10.92,7.36),(11.1,7.39),(11.22,7.37),(11.35,7.39),(11.5,7.36),(11.64,7.38),(11.76,7.36),(11.9,7.39),(12.02,7.37),(12.16,7.36),
    (6.05,7.23),(6.23,7.21),(6.36,7.24),(6.57,7.22),(6.7,7.24),(6.84,7.21),(7.0,7.23),(7.14,7.21),(7.36,7.24),(7.5,7.22),(7.64,7.24),(7.78,7.21),(7.95,7.23),(8.1,7.21),(8.25,7.24),(8.46,7.22),(8.6,7.24),(8.76,7.21),(8.9,7.23),(9.08,7.21),(9.22,7.24),(9.39,7.22),(9.52,7.24),(9.66,7.21),(9.8,7.23),(9.95,7.21),(10.09,7.24),(10.23,7.22),(10.38,7.24),(10.53,7.21),(10.68,7.23),(10.8,7.21),(10.95,7.24),(11.08,7.22),(11.22,7.24),(11.36,7.21),(11.51,7.23),(11.66,7.21),(11.8,7.24),(11.94,7.22),(12.06,7.24),(12.18,7.21),
    (6.22,7.08),(6.45,7.06),(6.6,7.09),(6.74,7.07),(6.95,7.09),(7.16,7.06),(7.36,7.08),(7.5,7.06),(7.62,7.09),(7.88,7.07),(8.0,7.09),(8.14,7.06),(8.34,7.08),(8.47,7.06),(8.6,7.09),(8.71,7.07),(8.92,7.09),(9.12,7.06),(9.25,7.08),(9.34,7.06),(9.57,7.09),(9.65,7.07),(9.9,7.09),(10.04,7.06),(10.2,7.08),(10.33,7.06),(10.48,7.09),(10.6,7.07),(10.78,7.09),(10.9,7.06),(11.06,7.08),(11.17,7.06),(11.32,7.09),(11.45,7.07),(11.6,7.09),(11.72,7.06),(11.88,7.08),(12.0,7.06),(12.13,7.09),(12.25,7.07),
    (6.28,6.93),(6.46,6.91),(6.62,6.94),(6.82,6.92),(6.95,6.94),(7.1,6.91),(7.26,6.93),(7.5,6.91),(7.62,6.94),(7.74,6.92),(7.9,6.94),(8.04,6.91),(8.2,6.93),(8.37,6.91),(8.5,6.94),(8.6,6.92),(8.84,6.94),(9.0,6.91),(9.14,6.93),(9.24,6.91),(9.46,6.94),(9.65,6.92),(9.76,6.94),(9.92,6.91),(10.04,6.93),(10.2,6.91),(10.33,6.94),(10.5,6.92),(10.62,6.94),(10.79,6.91),(10.92,6.93),(11.07,6.91),(11.2,6.94),(11.36,6.92),(11.5,6.94),(11.64,6.91),(11.78,6.93),(11.92,6.91),(12.04,6.94),(12.17,6.92),(12.26,6.94),
    (6.3,6.78),(6.5,6.76),(6.68,6.79),(6.86,6.77),(7.05,6.79),(7.26,6.76),(7.46,6.78),(7.62,6.76),(7.72,6.79),(7.96,6.77),(8.1,6.79),(8.24,6.76),(8.4,6.78),(8.58,6.76),(8.72,6.79),(8.82,6.77),(9.02,6.79),(9.2,6.76),(9.35,6.78),(9.45,6.76),(9.65,6.79),(9.82,6.77),(9.94,6.79),(10.1,6.76),(10.22,6.78),(10.38,6.76),(10.5,6.79),(10.66,6.77),(10.8,6.79),(10.96,6.76),(11.08,6.78),(11.24,6.76),(11.36,6.79),(11.52,6.77),(11.65,6.79),(11.8,6.76),(11.92,6.78),(12.06,6.76),(12.2,6.79),(12.32,6.77),
    (6.36,6.63),(6.58,6.61),(6.82,6.64),(7.04,6.62),(7.3,6.64),(7.48,6.61),(7.66,6.63),(7.82,6.61),(7.94,6.64),(8.1,6.62),(8.25,6.64),(8.42,6.61),(8.58,6.63),(8.78,6.61),(8.92,6.64),(9.04,6.62),(9.22,6.64),(9.36,6.61),(9.54,6.63),(9.7,6.61),(9.85,6.64),(10.0,6.62),(10.16,6.64),(10.3,6.61),(10.44,6.63),(10.6,6.61),(10.72,6.64),(10.88,6.62),(11.0,6.64),(11.16,6.61),(11.28,6.63),(11.44,6.61),(11.58,6.64),(11.72,6.62),(11.84,6.64),(11.98,6.61),(12.12,6.63),(12.24,6.61),
    (6.38,6.48),(6.62,6.46),(6.84,6.49),(7.02,6.47),(7.35,6.49),(7.54,6.46),(7.72,6.48),(7.92,6.46),(8.08,6.49),(8.22,6.47),(8.4,6.49),(8.62,6.46),(8.78,6.48),(8.94,6.46),(9.15,6.49),(9.3,6.47),(9.48,6.49),(9.64,6.46),(9.84,6.48),(10.0,6.46),(10.18,6.49),(10.34,6.47),(10.5,6.49),(10.66,6.46),(10.82,6.48),(10.96,6.46),(11.12,6.49),(11.3,6.47),(11.46,6.49),(11.6,6.46),(11.77,6.48),(11.92,6.46),(12.08,6.49),(12.22,6.47),
    (6.48,6.33),(6.74,6.31),(6.96,6.34),(7.2,6.32),(7.42,6.34),(7.66,6.31),(7.9,6.33),(8.12,6.31),(8.34,6.34),(8.52,6.32),(8.76,6.34),(8.92,6.31),(9.08,6.33),(9.22,6.31),(9.42,6.34),(9.62,6.32),(9.8,6.34),(9.98,6.31),(10.16,6.33),(10.36,6.31),(10.54,6.34),(10.7,6.32),(10.86,6.34),(11.02,6.31),(11.2,6.33),(11.38,6.31),(11.56,6.34),(11.72,6.32),(11.9,6.34),(12.06,6.31),(12.2,6.33),
    (6.58,6.18),(6.9,6.16),(7.2,6.19),(7.5,6.17),(7.84,6.19),(8.24,6.16),(8.58,6.18),(8.95,6.16),(9.3,6.19),(9.7,6.17),(10.0,6.19),(10.36,6.16),(10.64,6.18),(10.92,6.16),(11.18,6.19),(11.42,6.17),(11.68,6.19),(11.95,6.16),
    (6.72,6.03),(7.16,6.01),(7.6,6.04),(8.2,6.02),(8.65,6.04),(9.2,6.01),(9.65,6.03),(10.1,6.01),(10.55,6.04),(10.88,6.02),(11.15,6.04),(11.42,6.01),(11.7,6.03)]

names = ["creation", "quality", "part-whole", "desire", "lexical", "similarity",
         "temporal", "utility", "distinctness", "taxonomic", "spatial", "rel-other"]
series = [creation, quality, part_whole, desire, lexical, similarity,
          temporal, utility, distinctness, taxonomic, spatial, rel_other]
colors = ["#4c72b0", "#e377c2", "#55a03c", "#f50f0f", "#bcbd22", "#26bccc",
          "#a52a2a", "#8fbcd8", "#7b4a19", "#8b5a1a", "#f0b429", "#f3bccb"]
# order in which the point layers are stacked (bottom first)
draw_order = [0, 1, 2, 3, 11, 4, 5, 6, 7, 8, 9, 10]

x_ticks = [4, 6, 8, 10, 12]
y_ticks = [2, 4, 6, 8, 10]

fig = go.Figure()
for i in draw_order:
    pts = series[i]
    fig.add_trace(go.Scatter(
        x=[p[0] for p in pts],
        y=[p[1] for p in pts],
        mode="markers",
        name=names[i],
        legendrank=100 + i,
        marker=dict(color=colors[i], size=5.5, line=dict(width=0)),
    ))

axis_style = dict(showgrid=False, zeroline=False, showline=True, mirror=True,
                  linecolor="#333333", linewidth=1, ticks="outside", ticklen=3.5,
                  tickcolor="#333333", tickfont=dict(family="DejaVu Sans", size=10, color="#333333"))

# the page body adds an 8px offset, so the figure is 8px smaller than the window
fig.update_layout(
    width=672, height=534,
    margin=dict(l=30, r=19, t=10, b=121),
    paper_bgcolor="white", plot_bgcolor="white",
    xaxis=dict(range=[2.84, 12.87], tickvals=x_ticks, **axis_style),
    yaxis=dict(range=[0.07, 10.63], tickvals=y_ticks, **axis_style),
    legend=dict(x=0.99, y=0.015, xanchor="right", yanchor="bottom",
                bgcolor="rgba(255,255,255,0.8)", bordercolor="#cccccc", borderwidth=1,
                font=dict(family="DejaVu Sans", size=12, color="#222222")),
    showlegend=True,
)

fig.add_annotation(
    text="<b>Figure 2:</b> UMAP clusters according to our dimensions.",
    xref="paper", yref="paper", x=-0.048, y=-0.226,
    xanchor="left", yanchor="middle", showarrow=False,
    font=dict(family="Lato, sans-serif", size=19.5, color="#111111"),
)

fig.write_html("out.html")
